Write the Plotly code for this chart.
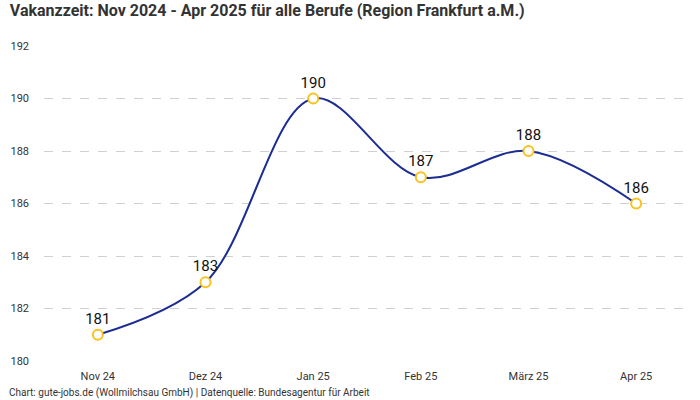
import plotly.graph_objects as go

months = ["Nov 24", "Dez 24", "Jan 25", "Feb 25", "März 25", "Apr 25"]
values = [181, 183, 190, 187, 188, 186]
y_ticks = [180, 182, 184, 186, 188, 190, 192]

FONT = "Roboto, Noto Sans, sans-serif"

fig = go.Figure()
fig.add_trace(go.Scatter(
    x=months, y=values,
    mode="lines+markers+text",
    line=dict(color="#1b2d92", width=2, shape="spline", smoothing=1.0),
    marker=dict(size=10, color="white", line=dict(color="#f9c21e", width=2)),
    text=[str(v) for v in values],
    textposition="top center",
    textfont=dict(size=15, color="#111111", family=FONT),
    cliponaxis=False,
    hoverinfo="x+y",
))

fig.update_layout(
    width=700, height=400,
    margin=dict(l=44, r=10, t=46, b=39),
    paper_bgcolor="white", plot_bgcolor="white",
    font=dict(family=FONT, color="#333333", size=11),
    showlegend=False,
    title=dict(
        text="<b>Vakanzzeit: Nov 2024 - Apr 2025 für alle Berufe (Region Frankfurt a.M.)</b>",
        x=0.014, xanchor="left", y=0.975, yanchor="middle",
        font=dict(size=16, color="#333333", family=FONT),
    ),
    xaxis=dict(
        type="category", range=[-0.5, 5.5], showgrid=False, zeroline=False,
        showline=False, ticks="", ticklabelstandoff=7,
        tickfont=dict(size=11, color="#333333"),
    ),
    yaxis=dict(
        range=[180, 192], tickvals=y_ticks, showgrid=True,
        gridcolor="#d0d0d0", griddash="dash", gridwidth=1,
        zeroline=False, showline=False, ticks="",
        ticklabelstandoff=14, tickfont=dict(size=11, color="#333333"),
    ),
    annotations=[dict(
        text="Chart: gute-jobs.de (Wollmilchsau GmbH) | Datenquelle: Bundesagentur für Arbeit",
        xref="paper", yref="paper", x=-0.057, y=-0.1016,
        xanchor="left", yanchor="middle", showarrow=False,
        font=dict(size=10, color="#333333", family=FONT),
    )],
)

fig.write_html("out.html", config={"displayModeBar": False},
               post_script="document.body.style.margin='0';")
